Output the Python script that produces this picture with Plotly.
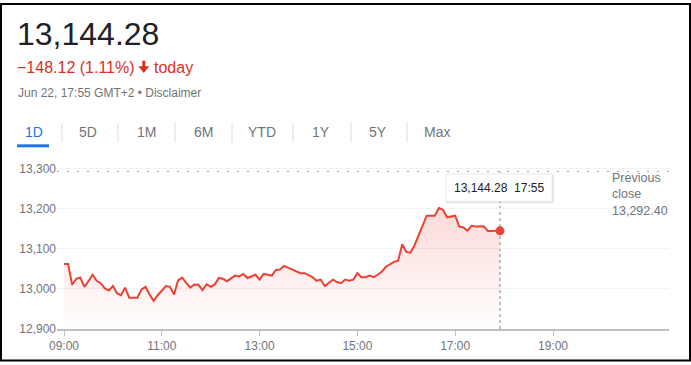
import pandas as pd
import plotly.graph_objects as go

# ---------------- data ----------------
start_time = "2020-06-22 09:00"
step_minutes = 5
prices = [
    13062, 13062, 13010, 13025, 13028, 13005, 13019, 13035, 13020, 13014,
    13001, 12996, 13007, 12989, 12984, 13003, 12978, 12978, 12978, 12998,
    13005, 12986, 12970, 12984, 12995, 13007, 13005, 12986, 13021, 13028,
    13015, 13003, 13011, 13010, 12997, 13011, 13005, 13011, 13027, 13025,
    13019, 13025, 13033, 13031, 13037, 13027, 13031, 13035, 13023, 13037,
    13035, 13033, 13047, 13048, 13057, 13052, 13047, 13043, 13039, 13039,
    13033, 13029, 13020, 13023, 13007, 13014, 13023, 13017, 13014, 13023,
    13020, 13023, 13039, 13029, 13029, 13033, 13029, 13035, 13043, 13055,
    13061, 13067, 13070, 13111, 13092, 13090, 13108, 13133, 13157, 13182,
    13182, 13182, 13201, 13197, 13178, 13180, 13182, 13155, 13153, 13145,
    13157, 13155, 13156, 13156, 13144, 13144, 13144, 13144.28,
]
last_price = 13144.28
prev_close = 13292.40
change = -148.12
change_pct = 1.11
last_time_label = "17:55"
date_label = "Jun 22, 17:55 GMT+2"
y_ticks = [12900, 13000, 13100, 13200, 13300]
x_ticks = ["2020-06-22 09:00", "2020-06-22 11:00", "2020-06-22 13:00",
           "2020-06-22 15:00", "2020-06-22 17:00", "2020-06-22 19:00"]
x_tick_labels = ["09:00", "11:00", "13:00", "15:00", "17:00", "19:00"]
tabs = ["1D", "5D", "1M", "6M", "YTD", "1Y", "5Y", "Max"]

# ---------------- layout helpers ----------------
W, H = 691, 365
ML, MR, MT, MB = 57, 22, 163, 33
PW, PH = W - ML - MR, H - MT - MB


def px(x):
    return (x - ML) / PW


def py(y):
    return (H - MB - y) / PH


FONT = "Arial, Liberation Sans, sans-serif"
RED = "#ea4335"
RED_TEXT = "#d93025"
GRAY = "#70757a"
DARK = "#202124"
BLUE = "#1a73e8"

times = pd.date_range(start_time, periods=len(prices), freq=f"{step_minutes}min")

fig = go.Figure()
fig.add_trace(go.Scatter(
    x=times, y=prices, mode="lines",
    line=dict(color=RED, width=2),
    fill="tozeroy",
    fillgradient=dict(
        type="vertical", start=12900, stop=13210,
        colorscale=[[0, "rgba(234,67,53,0)"], [1, "rgba(234,67,53,0.2)"]],
    ),
    hoverinfo="skip", showlegend=False,
))
fig.add_trace(go.Scatter(
    x=[times[-1]], y=[prices[-1]], mode="markers",
    marker=dict(color=RED, size=9),
    hoverinfo="skip", showlegend=False,
))

shapes = []
# previous close dotted line
shapes.append(dict(type="line", xref="paper", x0=0, x1=1, yref="y",
                   y0=prev_close, y1=prev_close,
                   line=dict(color="#9aa0a6", width=1, dash="2px,8px"), layer="below"))
# vertical dotted marker line
shapes.append(dict(type="line", xref="x", x0=times[-1], x1=times[-1], yref="y",
                   y0=y_ticks[0], y1=prev_close,
                   line=dict(color="#80868b", width=1, dash="dot"), layer="below"))
# tooltip shadow + box
shapes.append(dict(type="rect", xref="paper", yref="paper",
                   x0=px(446), x1=px(554), y0=py(204), y1=py(175),
                   fillcolor="rgba(0,0,0,0.10)", line=dict(width=0), layer="above"))
shapes.append(dict(type="rect", xref="paper", yref="paper",
                   x0=px(446), x1=px(552), y0=py(202), y1=py(174),
                   fillcolor="white", line=dict(color="#e8eaed", width=1), layer="above"))
# tab separators
for sx in [62, 118, 175, 232, 293, 351, 407]:
    shapes.append(dict(type="line", xref="paper", yref="paper",
                       x0=px(sx), x1=px(sx), y0=py(122), y1=py(142),
                       line=dict(color="#dadce0", width=1)))
# active tab underline
shapes.append(dict(type="rect", xref="paper", yref="paper",
                   x0=px(17), x1=px(49), y0=py(147), y1=py(144),
                   fillcolor=BLUE, line=dict(width=0)))
# down-arrow icon
arrow_pts = [(142.3, 59), (145.3, 59), (145.3, 64.5), (149.3, 64.5),
             (143.8, 71.5), (138.3, 64.5), (142.3, 64.5)]
arrow_path = "M " + " L ".join(f"{px(a):.5f},{py(b):.5f}" for a, b in arrow_pts) + " Z"
shapes.append(dict(type="path", xref="paper", yref="paper", path=arrow_path,
                   fillcolor=RED_TEXT, line=dict(width=0)))
# outer frame
shapes.append(dict(type="rect", xref="paper", yref="paper",
                   x0=px(1), x1=px(690), y0=py(364), y1=py(1),
                   line=dict(color="black", width=2), fillcolor="rgba(0,0,0,0)"))

ann = []


def text(x, y, s, size, color, anchor="left", **kw):
    ann.append(dict(xref="paper", yref="paper", x=px(x), y=py(y), text=s,
                    showarrow=False, xanchor=anchor, yanchor="middle",
                    font=dict(family=FONT, size=size, color=color), **kw))


text(15, 32, f"{last_price:,.2f}", 32, DARK)
text(15, 66, f"\u2212{abs(change):,.2f} ({change_pct:.2f}%)", 16, RED_TEXT)
text(152, 66, "today", 16, RED_TEXT)
text(16, 92, f"{date_label} \u2022 Disclaimer", 12, GRAY)
for label, cx in zip(tabs, [33.5, 88, 146, 203, 262, 321, 378, 437]):
    text(cx, 131, label, 14, BLUE if label == "1D" else GRAY, anchor="center")
text(499, 188, f"{last_price:,.2f}\u00a0\u00a0{last_time_label}", 12, DARK, anchor="center")
text(610, 195, f"Previous<br>close<br>{prev_close:,.2f}", 12.5, GRAY, align="left")

fig.update_layout(
    width=W, height=H,
    margin=dict(l=ML, r=MR, t=MT, b=MB, pad=0),
    paper_bgcolor="white", plot_bgcolor="white",
    hovermode=False,
    shapes=shapes, annotations=ann,
    font=dict(family=FONT, size=12, color=GRAY),
    xaxis=dict(
        type="date",
        range=["2020-06-22 08:51:25", "2020-06-22 21:22:20"],
        tickvals=x_ticks, ticktext=x_tick_labels,
        ticks="outside", ticklen=5, tickcolor="#bdc1c6", tickwidth=1,
        showline=True, linecolor="#bdc1c6", linewidth=2,
        showgrid=False, zeroline=False, fixedrange=True,
        tickfont=dict(family=FONT, size=12, color=GRAY),
    ),
    yaxis=dict(
        range=[12900, 13313.2],
        tickvals=y_ticks, tickformat=",d",
        showgrid=True, gridcolor="#f1f3f4", gridwidth=1,
        zeroline=False, showline=False, ticks="", fixedrange=True,
        tickfont=dict(family=FONT, size=12, color=GRAY),
    ),
)

fig.write_html("out.html")
